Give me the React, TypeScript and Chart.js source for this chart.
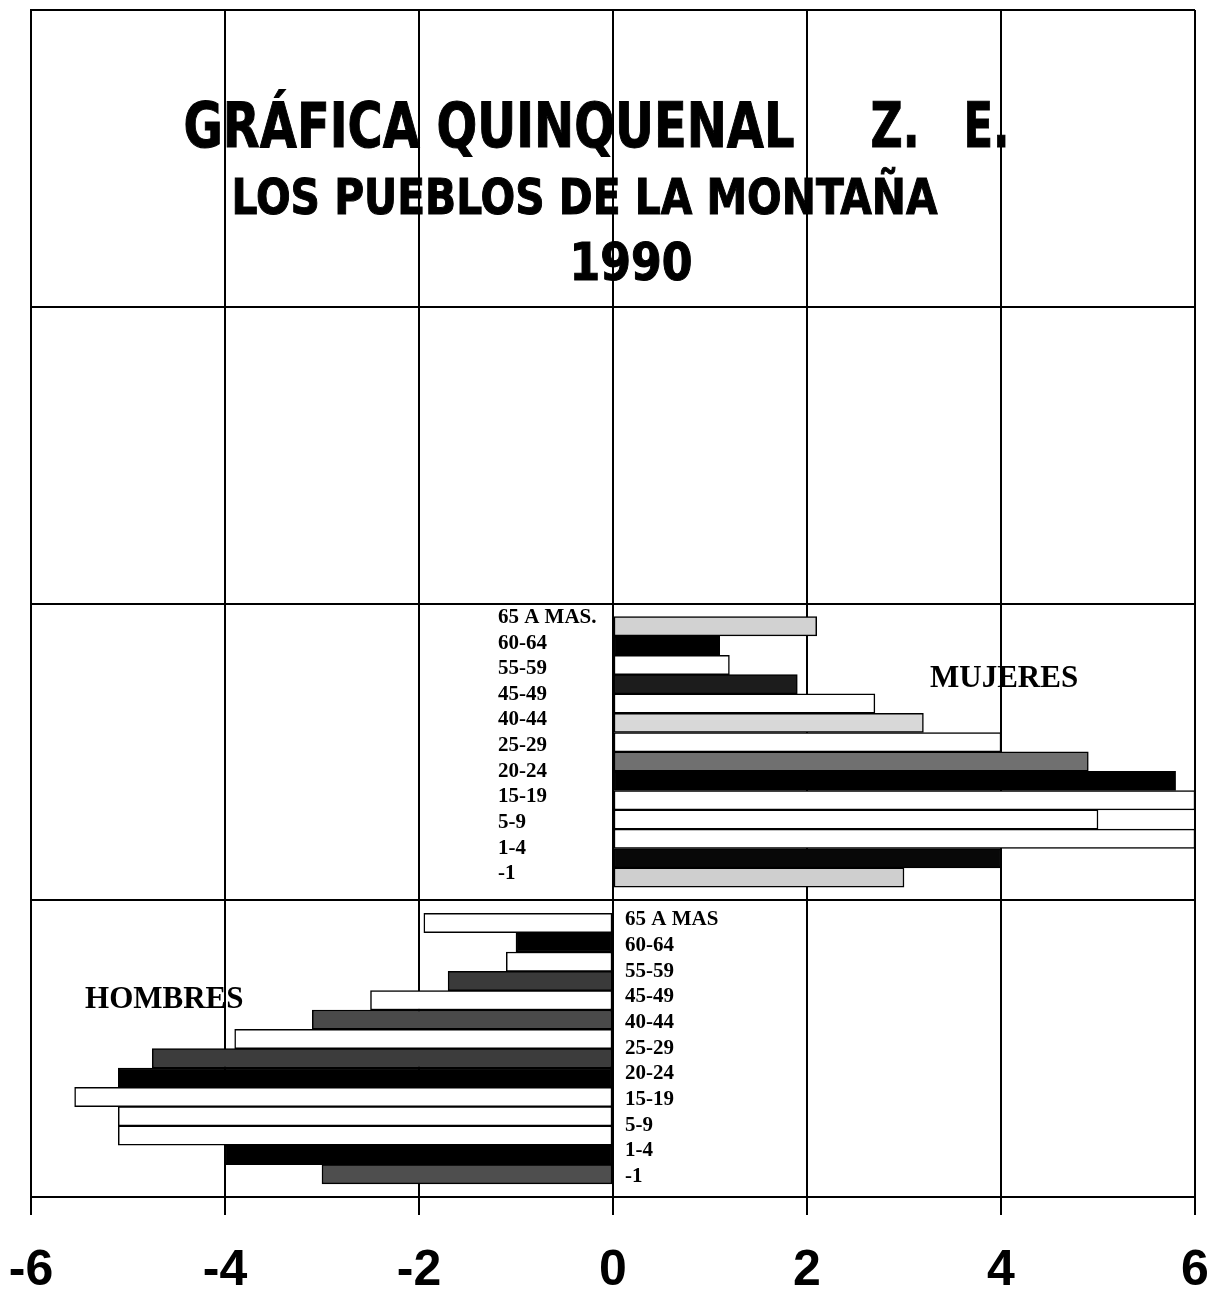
import React, { useEffect, useRef } from "react";
import { Chart, registerables } from "chart.js";

Chart.register(...registerables);

// ---------------- data ----------------
const TITLE_LINE_1 = "GRÁFICA QUINQUENAL    Z.  E.";
const TITLE_LINE_2 = "LOS PUEBLOS DE LA MONTAÑA";
const TITLE_LINE_3 = "1990";

const X_TICKS = [-6, -4, -2, 0, 2, 4, 6];
const Y_GRID = [0, 1, 2, 3, 4];

const MUJERES_TEXT = "MUJERES";
const HOMBRES_TEXT = "HOMBRES";

const MUJERES_LABELS = ["65 A MAS.", "60-64", "55-59", "45-49", "40-44", "25-29", "20-24", "15-19", "5-9", "1-4", "-1"];
const HOMBRES_LABELS = ["65 A MAS", "60-64", "55-59", "45-49", "40-44", "25-29", "20-24", "15-19", "5-9", "1-4", "-1"];

// bars, top to bottom
const MUJERES_VALUES = [2.1, 1.1, 1.2, 1.9, 2.7, 3.2, 4.0, 4.9, 5.8, 6.0, 5.0, 6.0, 4.0, 3.0];
const HOMBRES_VALUES = [-1.95, -1.0, -1.1, -1.7, -2.5, -3.1, -3.9, -4.75, -5.1, -5.55, -5.1, -5.1, -4.0, -3.0];

const MUJERES_FILLS = ["#d2d2d2", "#000000", "#ffffff", "#1c1c1c", "#ffffff", "#d8d8d8", "#ffffff", "#707070", "#000000", "#ffffff", "#ffffff", "#ffffff", "#080808", "#cfcfcf"];
const HOMBRES_FILLS = ["#ffffff", "#000000", "#ffffff", "#3a3a3a", "#ffffff", "#4a4a4a", "#ffffff", "#3c3c3c", "#000000", "#ffffff", "#ffffff", "#ffffff", "#000000", "#4e4e4e"];

// ---------------- layout constants ----------------
const BAND_MUJERES = 2; // y units (reversed axis, 0 at top)
const BAND_HOMBRES = 3;
const BAR_SLOTS_PER_BAND = 15.35;
const LABEL_STEP = 0.0864;
const MUJERES_LABEL_START = 2.047;
const HOMBRES_LABEL_START = 3.0666;
const MUJERES_LABEL_X = -1.186;
const HOMBRES_LABEL_X = 0.124;

function barPositions(band: number, n: number): number[] {
  const step = 1 / BAR_SLOTS_PER_BAND;
  const offset = (1 - n * step) / 2;
  return Array.from({ length: n }, (_, i) => band + offset + (i + 0.5) * step);
}

const TITLE_FAMILY = '"DejaVu Sans Condensed", "DejaVu Sans", "Liberation Sans", sans-serif';
const TITLE_FONT_1 = `bold 63px ${TITLE_FAMILY}`;
const TITLE_FONT_2 = `bold 50px ${TITLE_FAMILY}`;
const TITLE_FONT_3 = `bold 51px ${TITLE_FAMILY}`;
const SERIF_BIG = 'bold 31px "Liberation Serif", "Times New Roman", serif';
const SERIF_SMALL = 'bold 21px "Liberation Serif", "Times New Roman", serif';

function fitText(ctx: CanvasRenderingContext2D, text: string, x0: number, x1: number, baseline: number, font: string, stroke: number) {
  ctx.font = font;
  const w = ctx.measureText(text).width;
  const sx = (x1 - x0 - stroke) / w;
  ctx.save();
  ctx.translate(x0 + stroke / 2, baseline);
  ctx.scale(sx, 1);
  ctx.textAlign = "left";
  ctx.textBaseline = "alphabetic";
  ctx.fillText(text, 0, 0);
  if (stroke > 0) {
    ctx.lineWidth = stroke;
    ctx.lineJoin = "miter";
    ctx.strokeStyle = "#000";
    ctx.strokeText(text, 0, 0);
  }
  ctx.restore();
}

const line1Pieces = TITLE_LINE_1.split(/\s{2,}/);
// [x0, x1] in x-axis units for each piece, baseline in y units
const LINE1_SPANS = [[-4.433, 1.876], [2.649, 3.165], [3.608, 4.093]];
const LINE1_BASE = 0.4617;
const LINE2_SPAN = [-3.938, 3.351];
const LINE2_BASE = 0.688;
const LINE3_SPAN = [-0.454, 0.825];
const LINE3_BASE = 0.91;

const textPlugin = {
  id: "textLayer",
  beforeDraw(chart: any) {
    const { ctx } = chart;
    const x = chart.scales.x;
    const y = chart.scales.y;
    ctx.save();
    ctx.fillStyle = "#000";

    line1Pieces.forEach((t, i) => {
      const [a, b] = LINE1_SPANS[i];
      fitText(ctx, t, x.getPixelForValue(a), x.getPixelForValue(b), y.getPixelForValue(LINE1_BASE), TITLE_FONT_1, 1);
    });
    fitText(ctx, TITLE_LINE_2, x.getPixelForValue(LINE2_SPAN[0]), x.getPixelForValue(LINE2_SPAN[1]), y.getPixelForValue(LINE2_BASE), TITLE_FONT_2, 1);
    fitText(ctx, TITLE_LINE_3, x.getPixelForValue(LINE3_SPAN[0]), x.getPixelForValue(LINE3_SPAN[1]), y.getPixelForValue(LINE3_BASE), TITLE_FONT_3, 1);

    ctx.font = SERIF_BIG;
    ctx.textAlign = "left";
    ctx.textBaseline = "alphabetic";
    ctx.fillText(MUJERES_TEXT, x.getPixelForValue(3.268), y.getPixelForValue(2.281));
    ctx.fillText(HOMBRES_TEXT, x.getPixelForValue(-5.443), y.getPixelForValue(3.363));

    ctx.font = SERIF_SMALL;
    ctx.textBaseline = "middle";
    MUJERES_LABELS.forEach((t, i) => {
      ctx.fillText(t, x.getPixelForValue(MUJERES_LABEL_X), y.getPixelForValue(MUJERES_LABEL_START + i * LABEL_STEP));
    });
    HOMBRES_LABELS.forEach((t, i) => {
      ctx.fillText(t, x.getPixelForValue(HOMBRES_LABEL_X), y.getPixelForValue(HOMBRES_LABEL_START + i * LABEL_STEP));
    });
    ctx.restore();
  },
};

export default function App() {
  const ref = useRef<HTMLCanvasElement>(null);
  useEffect(() => {
    const mujPos = barPositions(BAND_MUJERES, MUJERES_VALUES.length);
    const homPos = barPositions(BAND_HOMBRES, HOMBRES_VALUES.length);
    const common = {
      borderColor: "#000",
      borderWidth: 1.5,
      borderSkipped: false,
      grouped: false,
      categoryPercentage: 1,
      barPercentage: 1,
    };
    const chart = new Chart(ref.current as HTMLCanvasElement, {
      type: "bar",
      data: {
        datasets: [
          {
            label: MUJERES_TEXT,
            data: MUJERES_VALUES.map((v, i) => ({ x: v, y: mujPos[i] })),
            backgroundColor: MUJERES_FILLS,
            ...common,
          } as any,
          {
            label: HOMBRES_TEXT,
            data: HOMBRES_VALUES.map((v, i) => ({ x: v, y: homPos[i] })),
            backgroundColor: HOMBRES_FILLS,
            ...common,
          } as any,
        ],
      },
      options: {
        indexAxis: "y",
        animation: false,
        responsive: true,
        maintainAspectRatio: false,
        layout: { padding: { left: 31, right: 17, top: 10, bottom: 0 } },
        plugins: {
          legend: { display: false },
          tooltip: { enabled: false },
          title: { display: false },
        },
        scales: {
          x: {
            type: "linear",
            min: -6,
            max: 6,
            offset: false,
            afterBuildTicks: (s: any) => {
              s.ticks = X_TICKS.map((v) => ({ value: v }));
            },
            grid: { color: "#000", lineWidth: 2, tickLength: 18, drawTicks: true, offset: false },
            border: { color: "#000", width: 2 },
            ticks: {
              color: "#000",
              font: { family: '"Liberation Sans", Arial, sans-serif', size: 50, weight: "bold" },
              padding: 26,
              autoSkip: false,
              maxRotation: 0,
            },
            afterFit: (s: any) => {
              s.height = 95;
              s.paddingLeft = 0;
              s.paddingRight = 0;
            },
          },
          y: {
            type: "linear",
            min: 0,
            max: 4,
            reverse: true,
            offset: false,
            afterBuildTicks: (s: any) => {
              s.ticks = Y_GRID.map((v) => ({ value: v }));
            },
            ticks: { display: false },
            grid: { color: "#000", lineWidth: 2, drawTicks: false, offset: false },
            border: { color: "#000", width: 2 },
            afterFit: (s: any) => {
              s.width = 0;
              s.paddingTop = 0;
              s.paddingBottom = 0;
            },
          },
        },
      } as any,
      plugins: [textPlugin],
    });
    return () => chart.destroy();
  }, []);
  return (
    <div style={{ position: "fixed", left: 0, top: 0, width: 1212, height: 1292, background: "#fff" }}>
      <canvas ref={ref} />
    </div>
  );
}
